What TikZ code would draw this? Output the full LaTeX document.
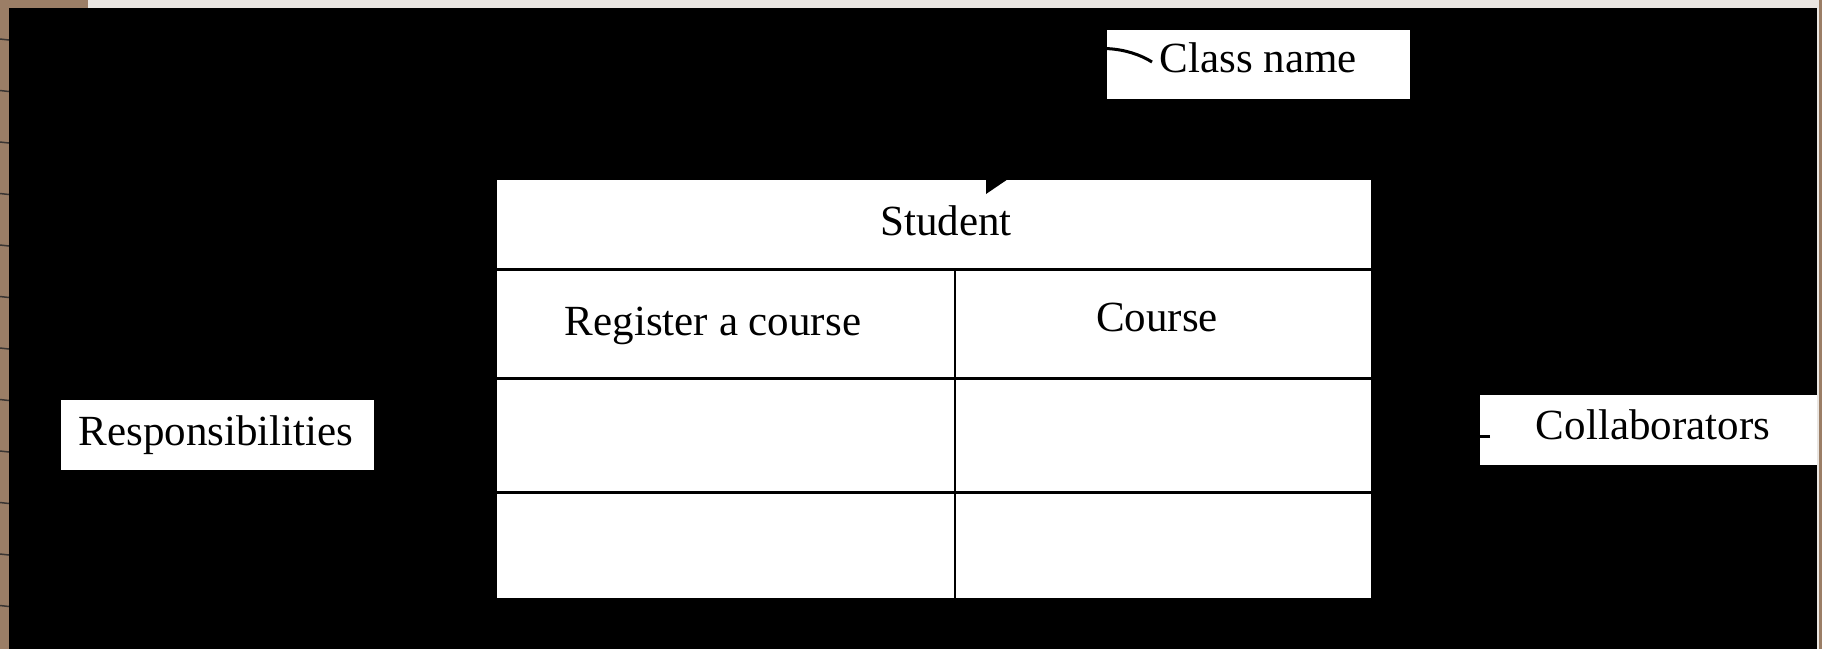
\documentclass[tikz,border=0pt]{standalone}
\usepackage{fontspec}
\setmainfont{Liberation Serif}
\definecolor{framebrown}{HTML}{9B7E66}
\definecolor{topgrey}{HTML}{EAE6E2}
\definecolor{tickgrey}{HTML}{3A3532}
\begin{document}
\begin{tikzpicture}[x=1pt,y=-1pt,
  lbl/.style={font=\fontsize{43}{50}\selectfont, anchor=base, inner sep=0pt},
  whitebox/.style={fill=white, draw=none, inner sep=0pt},
  rowrule/.style={line width=3pt, black},
  colrule/.style={line width=2pt, black},
  conn/.style={line width=3pt, black},
  tickmark/.style={line width=1.5pt, tickgrey}]
\useasboundingbox (0,0) rectangle (1822,649);
% screenshot surroundings
\fill[framebrown] (0,0) rectangle (1822,649);
\fill[topgrey] (88,0) rectangle (1819,8);
\fill[topgrey] (1817,8) rectangle (1819,649);
\foreach \y in {39,90.5,142,193.5,245,296.5,348,399.5,451,502.5,554,605.5}
  \draw[tickmark] (0,\y) -- (9,\y+1);
\fill[black] (9,8) rectangle (1817,649);
% label boxes
\node[whitebox, minimum width=303pt, minimum height=69pt] (cnbox) at (1258.5,64.5) {};
\node[whitebox, minimum width=313pt, minimum height=70pt] (respbox) at (217.5,435) {};
\node[whitebox, minimum width=337pt, minimum height=70pt] (colbox) at (1648.5,430) {};
% CRC card
\node[whitebox, minimum width=874pt, minimum height=418pt] (tbl) at (934,389) {};
\draw[rowrule] (tbl.west |- 0,269.5) -- (tbl.east |- 0,269.5);
\draw[rowrule] (tbl.west |- 0,378) -- (tbl.east |- 0,378);
\draw[rowrule] (tbl.west |- 0,492) -- (tbl.east |- 0,492);
\draw[colrule] (955,269.5) -- (955,598);
% texts
\node[lbl] (student) at (946,235) {Student};
\node[lbl] (resp1) at (713,335) {Register a course};
\node[lbl] (coll1) at (1157,331) {Course};
\node[lbl] (cn) at (1258.5,72) {Class name};
\node[lbl] (resp) at (216,445) {Responsibilities};
\node[lbl] (coll) at (1653,439) {Collaborators};
% connectors
\coordinate (cnstart) at (1152,62);
\coordinate (tip) at (986,194);
\coordinate (tipbase) at (998,171);
\draw[conn] (cnstart) .. controls (1105,32) and (1000,45) .. (tipbase);
\fill[black] (tip) -- (986,166) -- (1011,177) -- cycle;
\coordinate (colstart) at (1490,436.5);
\coordinate (colend) at (tbl.east |- 0,436.5);
\draw[conn] (colstart) -- ([xshift=5pt]colend);
\end{tikzpicture}
\end{document}
